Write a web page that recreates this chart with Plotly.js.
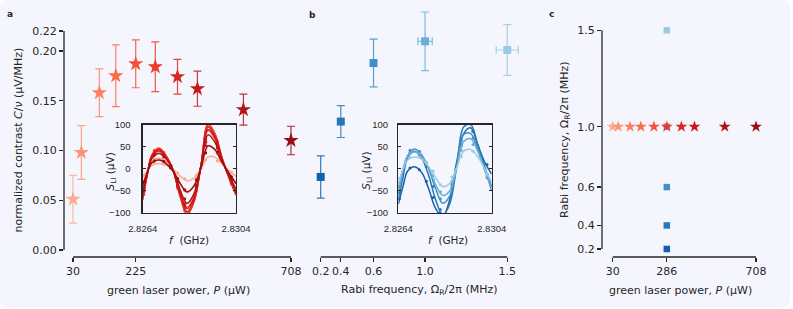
<!DOCTYPE html>
<html><head><meta charset="utf-8">
<script src="https://cdn.plot.ly/plotly-3.0.1.min.js"></script>
<style>html,body{margin:0;padding:0;background:#fff}</style>
</head><body><div id="chart" style="width:793px;height:309px"></div>
<script>
// ---------- Panel a: contrast vs green laser power ----------
const powerP = [30, 56, 112, 163, 225, 286, 355, 417, 560, 708];
const contrastA = [0.051, 0.098, 0.158, 0.175, 0.187, 0.184, 0.174, 0.162, 0.141, 0.110];
const contrastAErr = [0.024, 0.027, 0.024, 0.031, 0.024, 0.025, 0.0175, 0.0176, 0.0156, 0.0143];
const powerTicks = [30, 225, 708];
const contrastTicks = [0, 0.05, 0.10, 0.15, 0.20, 0.22];
const contrastTickText = ['0.00', '0.05', '0.10', '0.15', '0.20', '0.22'];

// ---------- Panel b: contrast vs Rabi frequency ----------
const rabiMeas = [0.2, 0.34, 0.568, 0.927, 1.5];
const rabiLabels = ['0.2', '0.4', '0.6', '1.0', '1.5'];
const contrastB = [0.0734, 0.129, 0.1878, 0.2096, 0.2009];
const contrastBErr = [0.0212, 0.016, 0.024, 0.0295, 0.0255];
const rabiErr = [0, 0, 0, 0.05, 0.077];

// ---------- Panel c: parameter map ----------
const powerTicksC = [30, 286, 708];
const rabiAtPowerSweep = [0.927, 0.927, 0.927, 0.927, 0.927, 0.927, 0.927, 0.927, 0.927, 0.927];
const powerAtRabiSweep = [286, 286, 286, 286, 286];

// ---------- Insets: lock-in signal S_LI (uV) vs f (GHz) ----------
const fGrid = [2.8264, 2.8266, 2.8268, 2.8271, 2.8274, 2.8277, 2.8280, 2.8283, 2.8286, 2.8289, 2.8292, 2.8295, 2.8298, 2.8301, 2.8304];
const fDots = [2.82645, 2.8269, 2.8273, 2.8276, 2.8279, 2.8282, 2.8287, 2.8291, 2.8296, 2.8302];
const fTicks = [2.8264, 2.8304];
const sliTicks = [-100, -50, 0, 50, 100];

const redFits = [
  [-19, -4, 8, 12, 8, -1, -16, -27, -21, 0, 27, 26, 12, -4, -17],
  [-36, -6, 17, 24, 16, -2, -32, -54, -39, 4, 53, 42, 13, -10, -31],
  [-59, -10, 27, 39, 25, -3, -52, -87, -63, 7, 86, 67, 21, -17, -50],
  [-66, -11, 30, 44, 28, -3, -58, -98, -71, 8, 96, 75, 24, -19, -56],
  [-70, -12, 32, 47, 30, -3, -62, -104, -75, 8, 102, 80, 25, -20, -60],
  [-69, -12, 31, 46, 29, -3, -61, -102, -74, 8, 100, 78, 25, -20, -59],
  [-65, -11, 30, 44, 28, -3, -58, -97, -70, 7, 95, 74, 23, -19, -56],
  [-61, -10, 28, 41, 26, -3, -54, -90, -65, 7, 89, 70, 22, -17, -52],
  [-53, -9, 24, 35, 23, -2, -47, -78, -56, 6, 77, 60, 19, -15, -45],
  [-38, -8, 14, 20, 12, -5, -33, -52, -38, 2, 52, 44, 15, -10, -34]
];
const redDots = [
  [-14, 12, 11, 4, -9, -22, -14, 20, 18, -7],
  [-30, 22, 18, 3, -24, -46, -22, 38, 34, -18],
  [-48, 35, 33, 5, -37, -76, -41, 60, 50, -30],
  [-50, 36, 35, 8, -41, -88, -43, 66, 59, -32],
  [-58, 42, 36, 6, -44, -95, -50, 72, 63, -31],
  [-52, 38, 37, 9, -40, -89, -45, 70, 60, -34],
  [-50, 39, 32, 7, -38, -85, -42, 64, 57, -28],
  [-46, 33, 33, 8, -38, -80, -40, 60, 55, -30],
  [-43, 31, 27, 4, -30, -68, -37, 53, 47, -24],
  [-30, 18, 17, 2, -22, -48, -25, 36, 38, -18]
];
const blueFits = [
  [-80, -40, -5, 5, -8, -45, -90, -108, -70, 15, 80, 93, 55, 15, -12],
  [-70, -20, 25, 40, 25, -15, -70, -105, -80, 5, 95, 100, 55, 5, -40],
  [-55, -5, 30, 45, 32, 0, -45, -78, -62, 5, 78, 80, 45, 0, -50],
  [-45, 0, 28, 38, 28, 3, -36, -60, -50, 2, 62, 68, 40, -3, -42],
  [-35, 0, 20, 27, 22, 5, -20, -40, -33, 3, 40, 44, 28, 0, -30]
];
const blueDots = [
  [-68, 2, -2, -28, -65, -100, -40, 55, 85, 10],
  [-55, 36, 32, 5, -40, -92, -45, 65, 85, -12],
  [-40, 42, 40, 14, -25, -68, -35, 52, 70, -20],
  [-30, 35, 34, 14, -15, -52, -28, 42, 55, -18],
  [-22, 25, 26, 14, -5, -36, -18, 28, 40, -12]
];

// ---------- styles ----------
const reds = ['#fcab8e', '#fc9575', '#fb7f5f', '#fb6a4a', '#f5513a', '#ed392b', '#d92623', '#c6171c', '#b21218', '#990c13'];
const blues = ['#1361a9', '#2878b8', '#4090c5', '#6aaed6', '#9dcae1'];
const ink = '#262626';
const FONT = 'DejaVu Sans';
const INSET_FONT = 'Liberation Sans';
const W = 793, H = 309;
const px = v => v / W;
const py = v => 1 - v / H;
function rgba(hex, a) {
  const n = parseInt(hex.slice(1), 16);
  return 'rgba(' + ((n >> 16) & 255) + ',' + ((n >> 8) & 255) + ',' + (n & 255) + ',' + a + ')';
}

const traces = [];
// panel a stars
powerP.forEach((p, i) => {
  traces.push({
    type: 'scatter', mode: 'markers', x: [p], y: [contrastA[i]], xaxis: 'x', yaxis: 'y',
    marker: {symbol: 'star', size: 11.5, color: reds[i], line: {width: 0}},
    error_y: {type: 'data', array: [contrastAErr[i]], visible: true, color: rgba(reds[i], 0.85), thickness: 1.2, width: 4},
    cliponaxis: false, showlegend: false, hoverinfo: 'skip'
  });
});
// panel b squares
rabiMeas.forEach((r, i) => {
  traces.push({
    type: 'scatter', mode: 'markers', x: [r], y: [contrastB[i]], xaxis: 'x2', yaxis: 'y',
    marker: {symbol: 'square', size: 8, color: blues[i], line: {width: 0}},
    error_y: {type: 'data', array: [contrastBErr[i]], visible: true, color: rgba(blues[i], 0.85), thickness: 1.2, width: 4},
    error_x: {type: 'data', array: [rabiErr[i]], visible: rabiErr[i] > 0, color: rgba(blues[i], 0.85), thickness: 1.2, width: 4},
    cliponaxis: false, showlegend: false, hoverinfo: 'skip'
  });
});
// panel c
traces.push({
  type: 'scatter', mode: 'markers', x: powerAtRabiSweep, y: rabiMeas, xaxis: 'x3', yaxis: 'y3',
  marker: {symbol: 'square', size: 6.5, color: blues}, cliponaxis: false, showlegend: false, hoverinfo: 'skip'
});
traces.push({
  type: 'scatter', mode: 'markers', x: powerP, y: rabiAtPowerSweep, xaxis: 'x3', yaxis: 'y3',
  marker: {symbol: 'star', size: 9, color: reds}, cliponaxis: false, showlegend: false, hoverinfo: 'skip'
});
// insets
function addInset(fits, dots, colors, xa, ya) {
  fits.forEach((v, i) => {
    traces.push({type: 'scatter', mode: 'markers', x: fDots, y: dots[i], xaxis: xa, yaxis: ya,
      marker: {size: 3, color: colors[i]}, showlegend: false, hoverinfo: 'skip'});
    traces.push({type: 'scatter', mode: 'lines', x: fGrid, y: v, xaxis: xa, yaxis: ya,
      line: {shape: 'spline', smoothing: 1, width: 1.5, color: colors[i]}, showlegend: false, hoverinfo: 'skip'});
  });
}
addInset(redFits, redDots, reds, 'x4', 'y4');
addInset(blueFits, blueDots, blues, 'x5', 'y5');

const axBase = {
  showgrid: false, zeroline: false, showline: false, ticks: 'outside', ticklen: 4, tickwidth: 1.2,
  tickcolor: ink, tickfont: {family: FONT, size: 11, color: ink}, tickmode: 'array', fixedrange: true
};
const insetAx = {
  showgrid: false, zeroline: false, showline: true, mirror: 'ticks', linecolor: ink, linewidth: 1.3,
  ticks: 'inside', ticklen: 3, tickwidth: 1, tickcolor: ink, tickfont: {family: INSET_FONT, size: 9.5, color: ink},
  tickmode: 'array', fixedrange: true
};
const yDomain = [py(257), py(5)];
const yDomainC = [py(257), py(20)];
const insetY = [py(213), py(124.7)];

const layout = {
  width: W, height: H, margin: {l: 0, r: 0, t: 0, b: 0},
  paper_bgcolor: '#ffffff', plot_bgcolor: 'rgba(0,0,0,0)', showlegend: false,
  font: {family: FONT, color: ink},
  xaxis: Object.assign({}, axBase, {domain: [px(64), px(300)], range: [2.01, 736], tickvals: powerTicks, anchor: 'y'}),
  yaxis: Object.assign({}, axBase, {domain: yDomain, range: [-0.00703, 0.24612], tickvals: contrastTicks, ticktext: contrastTickText, anchor: 'x'}),
  xaxis2: Object.assign({}, axBase, {domain: [px(305), px(540)], range: [0.0906, 1.7278], tickvals: rabiMeas, ticktext: rabiLabels, anchor: 'y'}),
  xaxis3: Object.assign({}, axBase, {domain: [px(602), px(772)], range: [-20.62, 783.7], tickvals: powerTicksC, anchor: 'y3'}),
  yaxis3: Object.assign({}, axBase, {domain: yDomainC, range: [0.15245, 1.5612], tickvals: rabiMeas, ticktext: rabiLabels, anchor: 'x3'}),
  xaxis4: Object.assign({}, insetAx, {domain: [px(142.7), px(236)], range: [fTicks[0], fTicks[1]], tickvals: fTicks, ticktext: fTicks.map(String), anchor: 'y4', ticklabelstandoff: 6}),
  yaxis4: Object.assign({}, insetAx, {domain: insetY, range: [-100, 100], tickvals: sliTicks, anchor: 'x4', ticklabelstandoff: 9}),
  xaxis5: Object.assign({}, insetAx, {domain: [px(398.3), px(491.7)], range: [fTicks[0], fTicks[1]], tickvals: fTicks, ticktext: fTicks.map(String), anchor: 'y5', ticklabelstandoff: 6}),
  yaxis5: Object.assign({}, insetAx, {domain: insetY, range: [-100, 100], tickvals: sliTicks, anchor: 'x5', ticklabelstandoff: 7}),
  shapes: [],
  annotations: []
};

// rounded background card
(function () {
  const x0 = 0, x1 = px(790), yT = 1, yB = py(307), rx = 8 / W, ry = 8 / H;
  const path = 'M ' + (x0 + rx) + ',' + yT + ' L ' + (x1 - rx) + ',' + yT + ' Q ' + x1 + ',' + yT + ' ' + x1 + ',' + (yT - ry) +
    ' L ' + x1 + ',' + (yB + ry) + ' Q ' + x1 + ',' + yB + ' ' + (x1 - rx) + ',' + yB +
    ' L ' + (x0 + rx) + ',' + yB + ' Q ' + x0 + ',' + yB + ' ' + x0 + ',' + (yB + ry) +
    ' L ' + x0 + ',' + (yT - ry) + ' Q ' + x0 + ',' + yT + ' ' + (x0 + rx) + ',' + yT + ' Z';
  layout.shapes.push({type: 'path', path: path, xref: 'paper', yref: 'paper', fillcolor: '#f5f6fd', line: {width: 0}, layer: 'below'});
})();

// bounded spines (matplotlib-style offset spines)
const spine = {color: ink, width: 1.3};
layout.shapes.push({type: 'line', xref: 'paper', yref: 'y', x0: px(64), x1: px(64), y0: contrastTicks[0], y1: contrastTicks[contrastTicks.length - 1], line: spine});
layout.shapes.push({type: 'line', xref: 'x', yref: 'paper', x0: powerTicks[0], x1: powerTicks[powerTicks.length - 1], y0: yDomain[0], y1: yDomain[0], line: spine});
layout.shapes.push({type: 'line', xref: 'x2', yref: 'paper', x0: rabiMeas[0], x1: rabiMeas[rabiMeas.length - 1], y0: yDomain[0], y1: yDomain[0], line: spine});
layout.shapes.push({type: 'line', xref: 'paper', yref: 'y3', x0: px(602), x1: px(602), y0: rabiMeas[0], y1: rabiMeas[rabiMeas.length - 1], line: spine});
layout.shapes.push({type: 'line', xref: 'x3', yref: 'paper', x0: powerTicksC[0], x1: powerTicksC[powerTicksC.length - 1], y0: yDomainC[0], y1: yDomainC[0], line: spine});

function ann(text, x, y, opts) {
  layout.annotations.push(Object.assign({
    text: text, xref: 'paper', yref: 'paper', x: px(x), y: py(y), xanchor: 'center', yanchor: 'middle',
    showarrow: false, font: {family: FONT, size: 11, color: ink}
  }, opts || {}));
}
ann('<b>a</b>', 10, 14, {font: {family: FONT, size: 9, color: ink}});
ann('<b>b</b>', 312, 15, {font: {family: FONT, size: 9, color: ink}});
ann('<b>c</b>', 551, 14, {font: {family: FONT, size: 9, color: ink}});
ann('normalized contrast <i>C</i>/<i>ν</i> (μV/MHz)', 18.5, 140, {textangle: -90});
ann('green laser power, <i>P</i> (μW)', 178, 290);
ann('Rabi frequency, Ω<sub>R</sub>/2π (MHz)', 419, 290);
ann('Rabi frequency, Ω<sub>R</sub>/2π (MHz)', 565, 140, {textangle: -90});
ann('green laser power, <i>P</i> (μW)', 680, 290);
ann('<i>S</i><sub>LI</sub> (μV)', 110.5, 171, {textangle: -90, font: {family: FONT, size: 10.5, color: ink}});
ann('<i>f</i>  (GHz)', 189, 240, {font: {family: FONT, size: 10.5, color: ink}});
ann('<i>S</i><sub>LI</sub> (μV)', 366.7, 171, {textangle: -90, font: {family: FONT, size: 10.5, color: ink}});
ann('<i>f</i>  (GHz)', 448, 240, {font: {family: FONT, size: 10.5, color: ink}});

Plotly.newPlot('chart', traces, layout, {staticPlot: true, displayModeBar: false});
</script>
</body></html>
